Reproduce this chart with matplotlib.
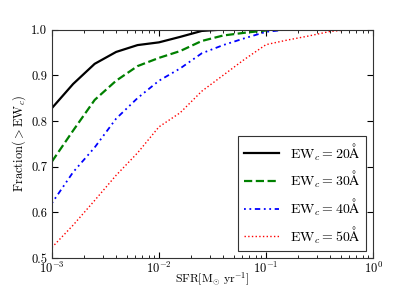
import matplotlib
matplotlib.use('Agg')
import matplotlib.pyplot as plt
import numpy as np

# SFR grid (5 points per decade) and fraction of galaxies above EW_c
sfr = [1.0e-3, 1.58e-3, 2.51e-3, 3.98e-3, 6.31e-3, 1.0e-2, 1.58e-2, 2.51e-2,
       3.98e-2, 6.31e-2, 1.0e-1, 1.58e-1, 2.51e-1, 3.98e-1, 6.31e-1, 1.0]

frac_20 = [0.828, 0.881, 0.925, 0.951, 0.966, 0.972, 0.984, 0.997,
           1.0, 1.0, 1.0, 1.0, 1.0, 1.0, 1.0, 1.0]
frac_30 = [0.711, 0.779, 0.846, 0.888, 0.920, 0.938, 0.953, 0.975,
           0.987, 0.993, 0.998, 1.0, 1.0, 1.0, 1.0, 1.0]
frac_40 = [0.620, 0.688, 0.742, 0.805, 0.850, 0.888, 0.915, 0.948,
           0.966, 0.981, 0.995, 1.0, 1.0, 1.0, 1.0, 1.0]
frac_50 = [0.523, 0.572, 0.626, 0.681, 0.730, 0.787, 0.818, 0.865,
           0.900, 0.935, 0.967, 0.977, 0.986, 0.996, 1.0, 1.0]

labels = [r'$\mathrm{EW}_c=20\mathrm{\AA}$', r'$\mathrm{EW}_c=30\mathrm{\AA}$',
          r'$\mathrm{EW}_c=40\mathrm{\AA}$', r'$\mathrm{EW}_c=50\mathrm{\AA}$']

plt.rcParams['font.family'] = 'serif'
plt.rcParams['font.serif'] = ['cmr10']
plt.rcParams['mathtext.fontset'] = 'cm'
plt.rcParams['axes.formatter.use_mathtext'] = True
plt.rcParams['axes.unicode_minus'] = False

fig = plt.figure(figsize=(4.15, 2.87), dpi=100)
ax = fig.add_axes([0.125, 0.101, 0.774, 0.796])

ax.plot(sfr, frac_20, color='k', ls='-', lw=1.6, label=labels[0])
ax.plot(sfr, frac_30, color='green', ls='--', lw=1.6, label=labels[1])
ax.plot(sfr, frac_40, color='blue', ls='-.', lw=1.3, label=labels[2],
        dashes=(1, 2, 1, 2, 3, 2))
ax.plot(sfr, frac_50, color='red', ls=':', lw=1.0, label=labels[3])

ax.set_xscale('log')
ax.set_xlim(1e-3, 1)
ax.set_ylim(0.5, 1.0)
ax.set_yticks([0.5, 0.6, 0.7, 0.8, 0.9, 1.0])
ax.set_yticklabels(['0.5', '0.6', '0.7', '0.8', '0.9', '1.0'])

ax.tick_params(which='both', direction='in', top=True, right=True, labelsize=9)
ax.tick_params(which='major', length=4)
ax.tick_params(which='minor', length=2)
ax.tick_params(axis='x', pad=2)
for s in ax.spines.values():
    s.set_color('#333333')

ax.set_xlabel(r'$\mathrm{SFR}[\mathrm{M}_{\odot}\ \mathrm{yr}^{-1}]$', fontsize=8.5)
ax.xaxis.set_label_coords(0.5, -0.055)
ax.set_ylabel(r'$\mathrm{Fraction}(>\mathrm{EW}_c)$', fontsize=9, labelpad=2)

leg = ax.legend(loc='lower right', fontsize=10, fancybox=False, framealpha=1,
                edgecolor='#333333', borderaxespad=0.5, handlelength=2.5,
                labelspacing=0.45)
leg.get_frame().set_linewidth(0.8)

fig.savefig('out.png', dpi=100)
